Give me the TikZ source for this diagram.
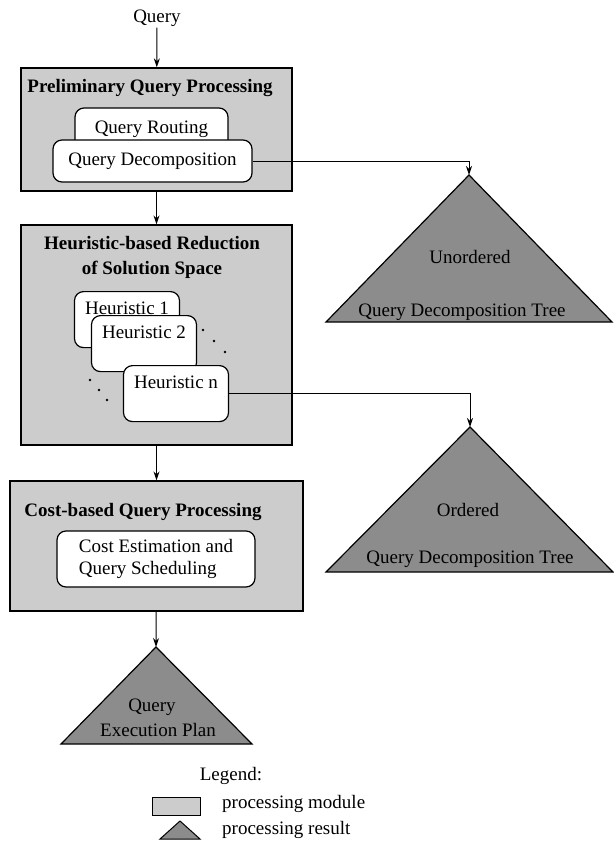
\documentclass[tikz,border=0pt]{standalone}
\usepackage{fontspec}
\setmainfont{Liberation Serif}
\usetikzlibrary{arrows.meta, positioning}
\definecolor{modfill}{gray}{0.80}
\definecolor{resfill}{gray}{0.55}
\tikzset{
  module/.style={rectangle,draw,line width=1.3pt,fill=modfill,inner sep=0pt},
  title/.style={font=\fontsize{19}{25}\selectfont\bfseries,align=center,inner sep=0pt},
  subbox/.style={rectangle,draw,line width=1.2pt,rounded corners=9pt,fill=white,inner sep=0pt},
  heurbox/.style={subbox,anchor=north,minimum width=105pt,text height=19pt,text depth=29pt,inner ysep=4pt},
  result/.style={draw,line width=1.2pt,fill=resfill,line join=miter},
  rtext/.style={inner sep=0pt},
  line/.style={-{Stealth[length=9pt,width=6pt]},line width=1pt}
}

\begin{document}
\begin{tikzpicture}[x=1pt,y=-1pt,font=\fontsize{19}{25}\selectfont]
\useasboundingbox (0,0) rectangle (613,867);
% processing modules
\node[inner sep=1pt] (query) at (157,18) {Query};
\node[module,minimum width=271pt,minimum height=123pt] (prelim) at (156.5,129.5) {};
\node[title] (prelimt) at (150,88) {Preliminary Query Processing};
\node[subbox,minimum width=153pt,minimum height=42pt] (routing) at (151.5,129) {Query Routing};
\node[subbox,minimum width=199pt,minimum height=42pt] (decomp) at (152.5,161) {Query Decomposition};

\node[module,minimum width=271pt,minimum height=220pt] (heur) at (156.5,335) {};
\node[title] (heurt) at (152,257) {Heuristic-based Reduction\\of Solution Space};
\foreach \p in {(203,330),(214,341),(225,352),(90,380),(99,390),(107,400)}
  \fill \p circle (1.3pt);
\node[heurbox] (h1) at (127,291) {Heuristic 1};
\node[heurbox] (h2) at (144,315) {Heuristic 2};
\node[heurbox] (hn) at (176,365) {Heuristic n};

\node[module,minimum width=293pt,minimum height=130pt] (cost) at (156.5,546) {};
\node[title] (costt) at (143,512) {Cost-based Query Processing};
\node[subbox,minimum width=198pt,minimum height=56pt,align=left,font=\fontsize{19}{22}\selectfont] (sched) at (156,559) {Cost Estimation and\\Query Scheduling};

% processing results
\coordinate (tri1) at (469,175);
\draw[result] (tri1) -- (612,322) -- (326,322) -- cycle;
\node[rtext] (tri1a) at (470,257) {Unordered};
\node[rtext] (tri1b) at (462,312) {Query Decomposition Tree};

\coordinate (tri2) at (470,427);
\draw[result] (tri2) -- (613,572) -- (326,572) -- cycle;
\node[rtext] (tri2a) at (468,510) {Ordered};
\node[rtext] (tri2b) at (470,559) {Query Decomposition Tree};

\coordinate (tri3) at (156,647);
\draw[result] (tri3) -- (252,744) -- (61,744) -- cycle;
\node[rtext] (tri3a) at (152,707) {Query};
\node[rtext] (tri3b) at (158,730) {Execution Plan};

% connectors
\draw[line] (query) -- (prelim);
\draw[line] (prelim) -- (heur);
\draw[line] (heur) -- (cost);
\draw[line] (cost) -- (tri3);
\draw[line] (decomp.east) -| (tri1);
\draw[line] (hn.east) -| (tri2);

% legend
\node[rtext] (legend) at (231,776) {Legend:};
\node[module,line width=1pt,minimum width=48pt,minimum height=18pt] (legmod) at (176,806) {};
\node[rtext,anchor=west] (legmodt) at (222,804) {processing module};
\draw[result,line width=1pt] (180,821) -- (200,839) -- (160,839) -- cycle;
\node[rtext,anchor=west] (legrest) at (222,830) {processing result};
\end{tikzpicture}
\end{document}
